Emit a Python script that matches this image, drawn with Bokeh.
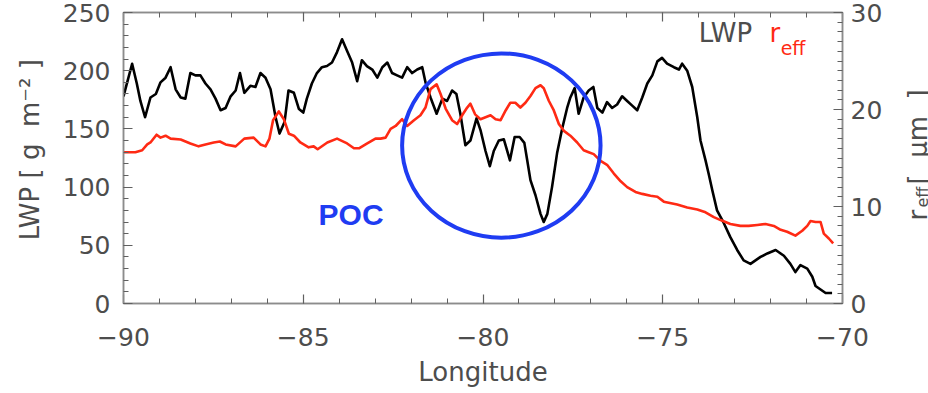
import math
from bokeh.plotting import figure
from bokeh.layouts import row
from bokeh.models import Range1d, LinearAxis, FixedTicker, Label
from bokeh.embed import file_html
from bokeh.resources import INLINE
from bokeh.core.properties import value

# ---------------- data ----------------
lwp_lon = [-90.00, -89.76, -89.63, -89.53, -89.40, -89.25, -89.10, -88.97, -88.83, -88.69,
           -88.55, -88.41, -88.28, -88.14, -88.00, -87.86, -87.72, -87.58, -87.44, -87.30,
           -87.16, -87.02, -86.88, -86.76, -86.64, -86.47, -86.33, -86.19, -86.05, -85.91,
           -85.77, -85.66, -85.52, -85.41, -85.26, -85.12, -85.00, -84.90, -84.76, -84.62,
           -84.48, -84.34, -84.20, -84.06, -83.92, -83.78, -83.64, -83.50, -83.37, -83.23,
           -83.08, -82.94, -82.80, -82.66, -82.53, -82.39, -82.25, -82.11, -81.97, -81.83,
           -81.69, -81.60, -81.46, -81.29, -81.13, -81.00, -80.86, -80.74, -80.63, -80.49,
           -80.35, -80.18, -80.07, -79.93, -79.81, -79.70, -79.56, -79.42, -79.25, -79.12,
           -78.98, -78.85, -78.77, -78.68, -78.54, -78.40, -78.31, -78.21, -78.08, -77.94,
           -77.80, -77.66, -77.57, -77.45, -77.34, -77.20, -77.06, -76.93, -76.82, -76.68,
           -76.55, -76.41, -76.27, -76.13, -75.99, -75.85, -75.71, -75.57, -75.43, -75.29,
           -75.15, -75.02, -74.88, -74.69, -74.55, -74.46, -74.32, -74.18, -74.04, -73.95,
           -73.81, -73.72, -73.62, -73.49, -73.30, -73.12, -72.93, -72.75, -72.56, -72.42,
           -72.28, -72.09, -71.86, -71.63, -71.45, -71.31, -71.17, -70.98, -70.84, -70.75,
           -70.61, -70.47, -70.29]
lwp_val = [178, 206, 189, 174, 160, 177, 180, 190, 194, 203,
           184, 177, 176, 198, 196, 196, 189, 184, 176, 166,
           168, 178, 183, 198, 181, 187, 186, 198, 194, 184,
           160, 146, 156, 183, 181, 167, 164, 176, 189, 198,
           203, 204, 207, 216, 227, 217, 207, 191, 209, 204,
           201, 194, 203, 207, 198, 196, 194, 203, 198, 201,
           203, 190, 177, 163, 176, 174, 183, 180, 163, 136,
           140, 159, 149, 131, 118, 131, 140, 141, 123, 143,
           143, 138, 123, 106, 93, 77, 70, 77, 100, 129,
           150, 168, 177, 185, 163, 177, 183, 186, 168, 164,
           173, 168, 171, 178, 174, 170, 166, 177, 189, 196,
           208, 211, 206, 203, 201, 206, 200, 186, 160, 140,
           123, 111, 97, 80, 69, 57, 46, 37, 34, 37,
           40, 43, 46, 41, 34, 27, 33, 30, 23, 15,
           12, 9, 9]

reff_lon = [-90.00, -89.67, -89.48, -89.34, -89.25, -89.08, -88.97, -88.83, -88.69, -88.41,
            -88.14, -87.91, -87.72, -87.49, -87.32, -87.16, -86.88, -86.64, -86.38, -86.19,
            -86.05, -85.94, -85.84, -85.68, -85.54, -85.40, -85.26, -85.08, -84.85, -84.71,
            -84.60, -84.33, -84.06, -83.78, -83.59, -83.45, -83.22, -82.99, -82.85, -82.71,
            -82.57, -82.43, -82.25, -82.11, -81.92, -81.74, -81.60, -81.46, -81.29, -81.18,
            -81.04, -80.86, -80.72, -80.58, -80.44, -80.35, -80.22, -80.07, -79.93, -79.79,
            -79.65, -79.51, -79.37, -79.24, -79.10, -78.96, -78.82, -78.68, -78.54, -78.40,
            -78.31, -78.17, -78.03, -77.89, -77.75, -77.57, -77.38, -77.20, -77.06, -76.92,
            -76.73, -76.55, -76.36, -76.17, -75.99, -75.76, -75.57, -75.34, -75.15, -74.97,
            -74.60, -74.32, -74.04, -73.81, -73.58, -73.39, -73.12, -72.84, -72.61, -72.37,
            -72.14, -71.91, -71.72, -71.54, -71.31, -71.12, -70.98, -70.89, -70.75, -70.61,
            -70.52, -70.38, -70.26]
reff_val = [15.6, 15.6, 15.8, 16.4, 16.6, 17.4, 17.1, 17.3, 17.0, 16.9,
            16.5, 16.2, 16.4, 16.6, 16.7, 16.4, 16.2, 17.0, 17.1, 16.4,
            16.2, 17.0, 18.9, 19.8, 19.0, 17.5, 17.3, 16.6, 16.1, 16.2,
            15.9, 16.6, 17.0, 16.5, 16.0, 16.0, 16.5, 17.0, 17.0, 17.1,
            18.0, 18.3, 19.0, 18.3, 18.9, 19.4, 20.2, 22.1, 22.6, 21.6,
            20.1, 18.9, 18.5, 19.4, 20.2, 20.6, 19.5, 19.0, 19.2, 19.4,
            19.0, 18.9, 19.9, 20.7, 20.7, 20.2, 20.7, 21.4, 22.2, 22.5,
            22.2, 20.9, 19.9, 18.5, 17.8, 17.3, 16.6, 15.8, 15.6, 15.4,
            14.7, 14.3, 13.4, 12.6, 12.0, 11.5, 11.3, 11.1, 11.0, 10.5,
            10.2, 9.9, 9.7, 9.4, 8.9, 8.6, 8.2, 8.0, 8.0, 8.1,
            8.2, 8.0, 7.6, 7.4, 7.0, 7.5, 8.0, 8.5, 8.4, 8.4,
            7.2, 6.7, 6.2]

x_ticks = [-90, -85, -80, -75, -70]
x_tick_labels = ["−90", "−85", "−80", "−75", "−70"]
x_minor = list(range(-90, -69))
lwp_ticks = [0, 50, 100, 150, 200, 250]
lwp_minor = list(range(0, 251, 10))
reff_ticks = [0, 10, 20, 30]
reff_minor = list(range(0, 31))

# annotation: POC circle (data units) and label
poc_lon, poc_lwp = -79.49, 135.7
poc_w, poc_h = 5.52, 158.3
poc_text_lon, poc_text_lwp = -83.67, 76.5

# ---------------- styles ----------------
FONT = "DejaVu Sans"
TXT = "#4d4d4d"
AXC = "#8c8c8c"
RED = "#ff2a14"
BLUE = "#1f3cf2"
NB = "\u00a0"
B_TOP, B_BOT = 12, 90

p = figure(width=885, height=393, x_range=Range1d(-90, -70), y_range=Range1d(0, 250),
           output_backend="svg", toolbar_location=None,
           min_border_left=123, min_border_right=43, min_border_top=B_TOP, min_border_bottom=B_BOT)
p.extra_y_ranges = {"reff": Range1d(0, 30)}
p.grid.visible = False
p.outline_line_color = AXC
p.outline_line_width = 1.5
p.background_fill_color = "white"
p.border_fill_color = "white"

bottom = p.below[0]
left = p.left[0]
right = LinearAxis(y_range_name="reff")
p.add_layout(right, "right")
top = LinearAxis()
p.add_layout(top, "above")


def style(ax, ticks, minor, labels=None):
    ax.ticker = FixedTicker(ticks=ticks, minor_ticks=minor)
    ax.major_tick_in = 9
    ax.major_tick_out = 0
    ax.minor_tick_in = 5
    ax.minor_tick_out = 0
    ax.axis_line_color = AXC
    ax.axis_line_width = 1.5
    ax.major_tick_line_color = "#606060"
    ax.minor_tick_line_color = "#606060"
    ax.major_tick_line_width = 1.2
    ax.minor_tick_line_width = 1.0
    ax.major_label_text_font = FONT
    ax.major_label_text_font_size = "25px"
    ax.major_label_text_color = TXT
    ax.axis_label_text_font = FONT
    ax.axis_label_text_font_style = "normal"
    ax.axis_label_text_color = TXT
    ax.axis_label_text_font_size = "26px"
    if labels is not None:
        ax.major_label_overrides = dict(zip(ticks, labels))


style(bottom, x_ticks, x_minor, x_tick_labels)
bottom.major_label_standoff = 24
bottom.axis_label = "Longitude"
bottom.axis_label_standoff = 8

style(top, x_ticks, x_minor, [""] * len(x_ticks))
top.major_label_standoff = 0

style(left, lwp_ticks, lwp_minor)
left.major_label_standoff = 13
left.axis_label = NB + NB + "LWP" + NB + "[" + NB + "g" + NB + NB + "m⁻²" + NB + "]"
left.axis_label_standoff = 15

style(right, reff_ticks, reff_minor)
right.major_label_standoff = 8

# ---------------- data lines ----------------
p.line(lwp_lon, lwp_val, line_color="black", line_width=2.6, line_join="round")
p.line(reff_lon, reff_val, line_color=RED, line_width=2.6, line_join="round", y_range_name="reff")

# POC circle
p.ellipse(x=[poc_lon], y=[poc_lwp], width=[poc_w], height=[poc_h],
          fill_color=None, line_color=BLUE, line_width=4)
p.add_layout(Label(x=poc_text_lon, y=poc_text_lwp, text="POC", text_font="Liberation Sans",
                   text_font_style="bold", text_font_size="30px", text_color=BLUE,
                   text_align="center", text_baseline="middle"))

# legend text (top right, inside frame)
p.add_layout(Label(x=-74.0, y=232.5, text="LWP", text_font=FONT, text_font_size="26px",
                   text_color=TXT, text_align="left", text_baseline="alphabetic"))
p.add_layout(Label(x=-72.03, y=232.5, text="r", text_font=FONT, text_font_size="26px",
                   text_color=RED, text_align="left", text_baseline="alphabetic"))
p.add_layout(Label(x=-71.72, y=219.5, text="eff", text_font=FONT, text_font_size="19px",
                   text_color=RED, text_align="left", text_baseline="alphabetic"))

# right axis title r_eff [μm] in a narrow side panel (rotated, reads bottom to top).
# Its frame shares the main frame's top/bottom borders; y measured as (393 - screen y).
side = figure(width=43, height=393, x_range=Range1d(0, 43),
              y_range=Range1d(B_BOT, 393 - B_TOP),
              x_axis_type=None, y_axis_type=None,
              output_backend="svg", toolbar_location=None,
              min_border=0, min_border_left=0, min_border_right=0,
              min_border_top=B_TOP, min_border_bottom=B_BOT)
side.grid.visible = False
side.outline_line_color = None
side.background_fill_color = "white"
side.border_fill_color = "white"
ang = math.pi / 2
side.text(x=[32], y=[173], text=["r"], angle=ang, text_font=value(FONT),
          text_font_size="26px", text_color=TXT, text_align="left", text_baseline="alphabetic")
side.text(x=[37], y=[186], text=["eff"], angle=ang, text_font=value(FONT),
          text_font_size="16px", text_color=TXT, text_align="left", text_baseline="alphabetic")
side.text(x=[32], y=[209], text=["[" + NB + NB + "μm" + NB + NB + "]"], angle=ang,
          text_font=value(FONT), text_font_size="26px", text_color=TXT,
          text_align="left", text_baseline="alphabetic")

layout = row(p, side, spacing=0)
open("out.html", "w").write(file_html(layout, INLINE))
